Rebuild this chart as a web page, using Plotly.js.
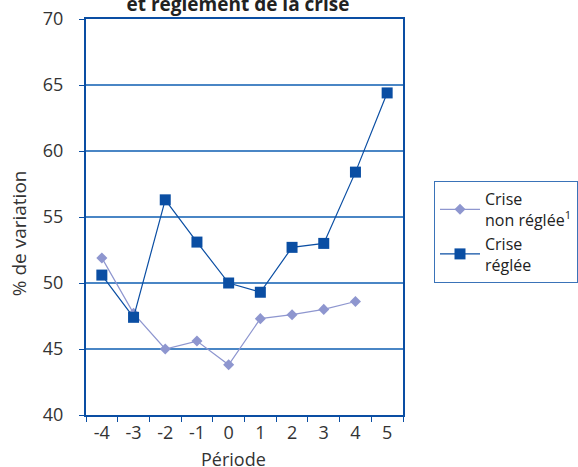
<!DOCTYPE html>
<html>
<head>
<meta charset="utf-8">
<script src="https://cdn.plot.ly/plotly-3.0.1.min.js"></script>
<style>html,body{margin:0;padding:0;background:#fff;}#chart{width:578px;height:467px;}</style>
</head>
<body>
<div id="chart"></div>
<script>
var periods = ["-4","-3","-2","-1","0","1","2","3","4","5"];
var nonRegleeX = ["-4","-3","-2","-1","0","1","2","3","4"];
var nonReglee = [51.9, 47.7, 45.0, 45.6, 43.8, 47.3, 47.6, 48.0, 48.6];
var regleeX = ["-4","-3","-2","-1","0","1","2","3","4","5"];
var reglee = [50.6, 47.4, 56.3, 53.1, 50.0, 49.3, 52.7, 53.0, 58.4, 64.4];
var yTicks = [40, 45, 50, 55, 60, 65, 70];

var font = "'Open Sans', 'Noto Sans', sans-serif";
var traces = [
  {x: nonRegleeX, y: nonReglee, name: "Crise<br>non réglée<sup>1</sup>", mode: "lines+markers",
   line: {color: "#8e96cf", width: 1.2}, marker: {symbol: "diamond", size: 8.5, color: "#8e96cf"}},
  {x: regleeX, y: reglee, name: "Crise<br>réglée", mode: "lines+markers",
   line: {color: "#0a4ea3", width: 1.2}, marker: {symbol: "square", size: 11, color: "#0a4ea3"}}
];
var layout = {
  width: 578, height: 467,
  margin: {l: 86, r: 175, t: 18.5, b: 52},
  paper_bgcolor: "#fff", plot_bgcolor: "#fff",
  font: {family: font, size: 17, color: "#333"},
  title: {text: "<b>et règlement de la crise</b>", x: 238/578, xanchor: "center", y: 0.991, yanchor: "middle", yref: "container",
          font: {family: font, size: 19, color: "#222"}},
  xaxis: {type: "category", categoryarray: periods, tickson: "boundaries", ticks: "outside", ticklen: 5,
          tickcolor: "#0a4ea3", showline: true, linecolor: "#0a4ea3", linewidth: 2, mirror: true,
          showgrid: false, tickfont: {size: 18},
          range: [-0.5, 9.5], fixedrange: true},
  yaxis: {range: [40, 70], tickvals: yTicks, ticks: "outside", ticklen: 5, tickcolor: "#0a4ea3",
          ticklabelstandoff: 12,
          showline: true, linecolor: "#0a4ea3", linewidth: 2, mirror: true,
          showgrid: true, gridcolor: "#4a86c5", gridwidth: 1.5, zeroline: false,
          tickfont: {size: 18}},
  annotations: [
    {text: "Période", xref: "paper", yref: "paper", x: (233-86)/317, y: 0, yshift: -44, xanchor: "center", yanchor: "middle",
     showarrow: false, font: {size: 18, color: "#333"}},
    {text: "% de variation", xref: "paper", yref: "paper", x: 0, xshift: -67, y: 1-(233-18.5)/396.5, xanchor: "center", yanchor: "middle",
     textangle: -90, showarrow: false, font: {size: 19, color: "#333"}}
  ],
  legend: {xref: "container", x: 434/578, xanchor: "left", yref: "container", y: 1-181/467, yanchor: "top",
           bordercolor: "#3a73b8", borderwidth: 1,
           font: {size: 16, color: "#222"}, tracegroupgap: 0, itemwidth: 40, entrywidth: 150},
  showlegend: true
};
Plotly.newPlot("chart", traces, layout, {displayModeBar: false, staticPlot: true});
</script>
</body>
</html>
